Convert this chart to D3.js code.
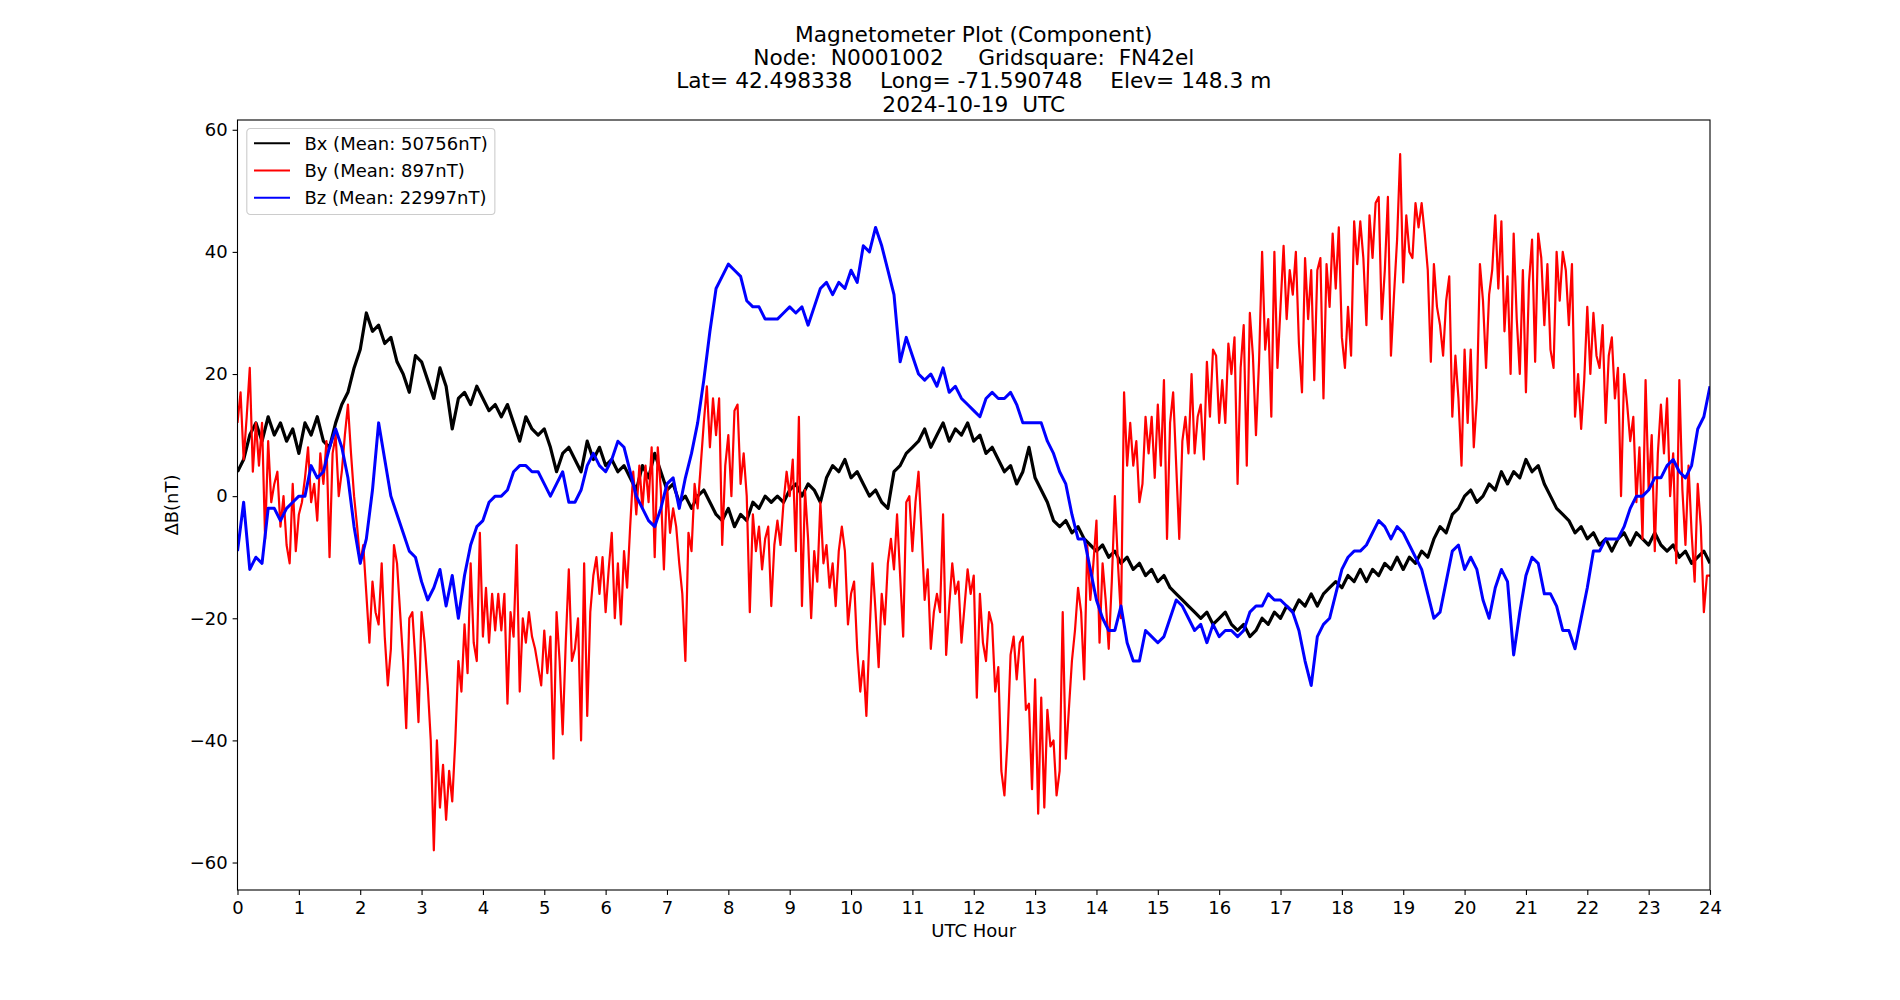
<!DOCTYPE html>
<html>
<head>
<meta charset="utf-8">
<script src="https://cdn.jsdelivr.net/npm/d3@7"></script>
<style>
  body { margin: 0; background: #fff; }
  text { font-family: "DejaVu Sans", sans-serif; white-space: pre; }
</style>
</head>
<body>
<svg id="chart" width="1900" height="1000"></svg>
<script>
// values, nT relative to the daily mean
// Bx and Bz sampled every 0.1 h, By every 0.05 h
var bxStep = 0.1, byStep = 0.05, bzStep = 0.1;

var bx = [
  4,6,10,12,9,13,10,12,9,11,
  7,12,10,13,9,8,12,15,17,21,
  24,30,27,28,25,26,22,20,17,23,
  22,19,16,21,18,11,16,17,15,18,
  16,14,15,13,15,12,9,13,11,10,
  11,8,4,7,8,6,4,9,6,8,
  5,6,4,5,3,1,5,3,7,4,
  1,2,-1,0,-2,0,1,-1,-3,-4,
  -2,-5,-3,-4,-1,-2,0,-1,0,-1,
  1,2,0,2,1,-1,3,5,4,6,
  3,4,2,0,1,-1,-2,4,5,7,
  8,9,11,8,10,12,9,11,10,12,
  9,10,7,8,6,4,5,2,4,8,
  3,1,-1,-4,-5,-4,-6,-5,-7,-8,
  -9,-8,-10,-9,-11,-10,-12,-11,-13,-12,
  -14,-13,-15,-16,-17,-18,-19,-20,-19,-21,
  -20,-19,-21,-22,-21,-23,-22,-20,-21,-19,
  -20,-18,-19,-17,-18,-16,-18,-16,-15,-14,
  -15,-13,-14,-12,-14,-12,-13,-11,-12,-10,
  -12,-10,-11,-9,-10,-7,-5,-6,-3,-2,
  0,1,-1,0,2,1,4,2,4,3,
  6,4,5,2,0,-2,-3,-4,-6,-5,
  -7,-6,-8,-7,-9,-7,-6,-8,-6,-7,
  -8,-6,-8,-9,-8,-10,-9,-11,-10,-9,
  -11
];

var by = [
  12,17,6,13,21,4,12,5,12,-7,9,-1,2,4,-5,0,-8,-11,2,-9,
  -3,-1,3,8,-1,2,-4,7,2,9,-10,7,10,0,4,10,15,7,0,-5,
  -11,-8,-16,-24,-14,-19,-21,-11,-23,-31,-25,-8,-11,-19,-27,-38,-20,-19,-27,-37,
  -19,-24,-31,-40,-58,-40,-51,-44,-53,-45,-50,-40,-27,-32,-21,-29,-11,-24,-27,-6,
  -23,-15,-24,-16,-22,-16,-22,-16,-34,-19,-23,-8,-32,-20,-24,-19,-23,-25,-28,-31,
  -22,-29,-23,-43,-19,-27,-39,-24,-12,-27,-25,-20,-40,-11,-36,-19,-13,-10,-16,-10,
  -19,-12,-6,-20,-11,-21,-9,-15,-5,4,-3,5,-2,5,-1,8,-10,8,1,-12,
  2,-6,-2,-5,-11,-16,-27,-6,-9,2,-2,5,12,18,8,16,10,16,-8,5,
  10,0,14,15,2,7,0,-19,-3,-9,-5,-12,-7,-5,-18,-8,-4,-8,-1,4,
  0,6,-9,13,-18,1,-7,-20,-9,-14,-1,-11,-8,-15,-11,-18,-9,-5,-9,-21,
  -16,-14,-25,-32,-27,-36,-23,-11,-19,-28,-16,-21,-11,-7,-12,-3,-13,-23,-1,0,
  -9,-1,4,-6,-17,-12,-25,-19,-16,-19,-3,-26,-18,-11,-16,-14,-24,-18,-12,-16,
  -13,-33,-16,-24,-27,-19,-21,-32,-28,-45,-49,-40,-26,-23,-30,-24,-23,-35,-34,-48,
  -30,-52,-33,-51,-35,-41,-40,-49,-45,-19,-43,-35,-27,-22,-15,-19,-30,-8,-17,-11,
  -4,-24,-11,-17,-25,-14,0,-11,-20,17,5,12,5,9,-1,2,13,7,13,3,
  15,5,19,-7,12,17,5,-7,9,13,7,20,7,13,15,6,22,13,24,23,
  12,19,12,25,20,26,2,21,28,5,30,23,10,22,40,24,29,13,40,21,
  31,41,29,37,33,40,25,17,39,29,37,19,37,39,16,38,31,43,34,44,
  26,21,31,23,45,38,45,39,28,46,39,48,49,29,37,49,23,33,42,56,
  35,46,40,39,48,44,48,43,37,22,38,31,28,23,32,36,13,23,16,5,
  24,12,24,8,16,38,32,21,33,37,46,34,45,27,36,20,43,29,20,37,
  17,35,42,22,43,39,28,38,24,21,40,32,40,37,28,38,13,20,11,19,
  31,20,30,23,21,28,12,23,26,16,21,0,20,15,9,13,-1,8,-7,19,
  1,10,-9,7,15,7,16,0,7,-11,19,1,-8,5,-6,-14,2,-5,-19,-13,
  -13
];

var bz = [
  -9,-1,-12,-10,-11,-2,-2,-4,-2,-1,
  0,0,5,3,4,8,11,8,3,-5,
  -11,-7,1,12,6,0,-3,-6,-9,-10,
  -14,-17,-15,-12,-18,-13,-20,-13,-8,-5,
  -4,-1,0,0,1,4,5,5,4,4,
  2,0,2,4,-1,-1,1,5,7,5,
  4,6,9,8,4,0,-2,-4,-5,-2,
  2,3,-2,3,7,12,19,27,34,36,
  38,37,36,32,31,31,29,29,29,30,
  31,30,31,28,31,34,35,33,35,34,
  37,35,41,40,44,41,37,33,22,26,
  23,20,19,20,18,21,17,18,16,15,
  14,13,16,17,16,16,17,15,12,12,
  12,12,9,7,4,2,-3,-7,-7,-12,
  -17,-20,-22,-22,-18,-24,-27,-27,-22,-23,
  -24,-23,-20,-17,-18,-20,-22,-21,-24,-21,
  -23,-22,-22,-23,-22,-19,-18,-18,-16,-17,
  -17,-18,-19,-22,-27,-31,-23,-21,-20,-16,
  -12,-10,-9,-9,-8,-6,-4,-5,-7,-5,
  -6,-8,-10,-12,-16,-20,-19,-14,-9,-8,
  -12,-10,-12,-17,-20,-15,-12,-14,-26,-19,
  -13,-10,-11,-16,-16,-18,-22,-22,-25,-20,
  -15,-9,-9,-7,-7,-7,-5,-2,0,0,
  1,3,3,5,6,4,3,5,11,13,
  18
];

var seriesNames = ["Bx", "By", "Bz"];
var seriesMeans = [50756, 897, 22997];
var seriesColors = ["#000000", "#ff0000", "#0000ff"];

var xTicks = d3.range(0, 25, 1);
var yTicks = [-60, -40, -20, 0, 20, 40, 60];

var titleLines = [
  "Magnetometer Plot (Component)",
  "Node:  N0001002     Gridsquare:  FN42el",
  "Lat= 42.498338    Long= -71.590748    Elev= 148.3 m",
  "2024-10-19  UTC"
];

var margin = { top: 120, right: 190, bottom: 110, left: 237.5 };
var W = 1900, H = 1000;
var width = W - margin.left - margin.right;
var height = H - margin.top - margin.bottom;

var fs = 18;  // tick, label and legend font size (px)

var svg = d3.select("#chart");

var g = svg.append("g")
  .attr("transform", "translate(" + margin.left + "," + margin.top + ")");

var x = d3.scaleLinear().domain([0, 24]).range([0, width]);
var y = d3.scaleLinear().domain([-64.5, 61.6]).range([height, 0]);

g.append("clipPath").attr("id", "clip")
  .append("rect").attr("width", width).attr("height", height);

var data = [
  { values: bx, step: bxStep, sw: 3.2 },
  { values: by, step: byStep, sw: 2.2 },
  { values: bz, step: bzStep, sw: 3 }
];

var line = d3.line()
  .x(function (d) { return x(d[0]); })
  .y(function (d) { return y(d[1]); });

var lines = g.append("g").attr("clip-path", "url(#clip)");
data.forEach(function (s, k) {
  var pts = s.values.map(function (v, i) { return [i * s.step, v]; });
  lines.append("path")
    .datum(pts)
    .attr("d", line)
    .attr("fill", "none")
    .attr("stroke", seriesColors[k])
    .attr("stroke-width", s.sw)
    .attr("stroke-linejoin", "round");
});

// axes
var fmt = function (d) { return d < 0 ? "\u2212" + Math.abs(d) : String(d); };

var xAxis = d3.axisBottom(x).tickValues(xTicks).tickFormat(fmt)
  .tickSize(4.9).tickPadding(6.3);
var yAxis = d3.axisLeft(y).tickValues(yTicks).tickFormat(fmt)
  .tickSize(4.9).tickPadding(4.9);

var gx = g.append("g").attr("transform", "translate(0," + height + ")").call(xAxis);
var gy = g.append("g").call(yAxis);

[gx, gy].forEach(function (a) {
  a.select(".domain").remove();
  a.selectAll(".tick line").attr("stroke", "#000").attr("stroke-width", 1.1);
  a.selectAll(".tick text")
    .attr("fill", "#000")
    .style("font-family", "DejaVu Sans")
    .style("font-size", fs + "px");
});

// frame
g.append("rect")
  .attr("width", width).attr("height", height)
  .attr("fill", "none").attr("stroke", "#000").attr("stroke-width", 1.1);

// axis labels
g.append("text")
  .attr("x", width / 2).attr("y", height + 47)
  .attr("text-anchor", "middle")
  .style("font-size", fs + "px")
  .text("UTC Hour");

g.append("text")
  .attr("transform", "translate(" + (-60) + "," + (height / 2) + ") rotate(-90)")
  .attr("text-anchor", "middle")
  .style("font-size", fs + "px")
  .text("\u0394B(nT)");

// title
var title = svg.append("text")
  .attr("text-anchor", "middle")
  .attr("xml:space", "preserve")
  .style("font-size", "21.7px");
titleLines.forEach(function (t, i) {
  title.append("tspan")
    .attr("x", margin.left + width / 2)
    .attr("y", 111.7 - (titleLines.length - 1 - i) * 23.4)
    .text(t);
});

// legend
var leg = g.append("g").attr("transform", "translate(" + 9.3 + "," + 8.5 + ")");
var box = leg.append("rect")
  .attr("fill", "#fff").attr("fill-opacity", 0.8)
  .attr("stroke", "#cccccc").attr("stroke-width", 1.1)
  .attr("rx", 3.5).attr("ry", 3.5);

var rowH = 27.3;
var maxW = 0;
seriesNames.forEach(function (n, i) {
  var cy = 14.7 + i * rowH;
  leg.append("line")
    .attr("x1", 0.4 * fs).attr("x2", 2.4 * fs)
    .attr("y1", cy).attr("y2", cy)
    .attr("stroke", seriesColors[i]).attr("stroke-width", 2);
  var t = leg.append("text")
    .attr("x", 3.2 * fs).attr("y", cy + 6.3)
    .style("font-size", fs + "px")
    .text(n + " (Mean: " + seriesMeans[i] + "nT)");
  maxW = Math.max(maxW, t.node().getComputedTextLength());
});
box.attr("width", 3.2 * fs + maxW + 0.4 * fs)
  .attr("height", 86);
</script>
</body>
</html>
